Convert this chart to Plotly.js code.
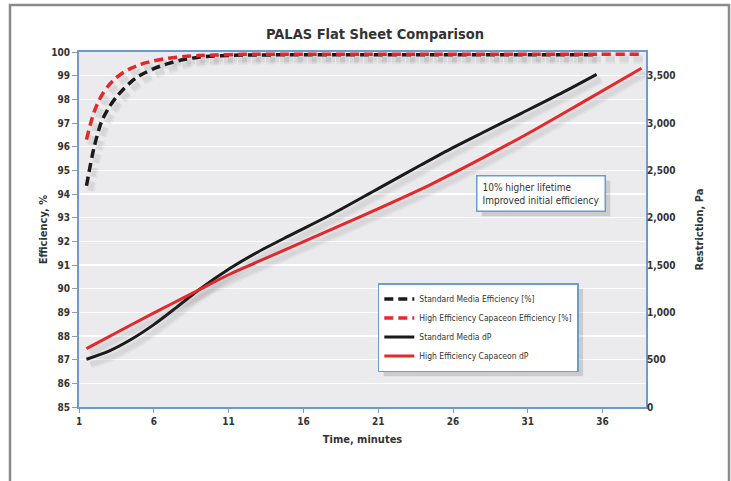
<!DOCTYPE html>
<html>
<head>
<meta charset="utf-8">
<script src="https://cdn.plot.ly/plotly-3.0.1.min.js"></script>
<style>
  html, body { margin: 0; padding: 0; background: #ffffff; }
  #chart { width: 731px; height: 481px; }
</style>
</head>
<body>
<div id="chart"></div>
<script>
// ---- data ----
const effTimeStd = [1.5, 2, 2.5, 3, 3.5, 4, 4.5, 5, 5.5, 6, 7, 8, 9, 10, 12, 15, 20, 25, 30, 35.6];
const effStd     = [94.35, 95.95, 97.05, 97.65, 98.1, 98.45, 98.75, 98.98, 99.15, 99.3, 99.52, 99.68, 99.78, 99.83, 99.87, 99.88, 99.88, 99.88, 99.88, 99.88];

const effTimeCap = [1.5, 2, 2.5, 3, 3.5, 4, 4.5, 5, 5.5, 6, 7, 8, 9, 10, 12, 15, 20, 25, 30, 35, 38.6];
const effCap     = [96.3, 97.45, 98.15, 98.6, 98.92, 99.15, 99.32, 99.45, 99.55, 99.63, 99.74, 99.81, 99.85, 99.87, 99.9, 99.9, 99.9, 99.9, 99.9, 99.9, 99.9];

const dpTimeStd = [1.5, 3, 4.5, 6, 7.5, 9, 11.1, 12.8, 15, 17.8, 21, 23.85, 26, 28, 30.56, 33.6, 35.6];
const dpStd     = [504, 590, 715, 870, 1050, 1236, 1465, 1624, 1805, 2028, 2307, 2556, 2740, 2900, 3102, 3345, 3514];

const dpTimeCap = [1.5, 4.75, 7.43, 9, 11.1, 12.8, 17.8, 24.5, 30.56, 35, 38.6];
const dpCap     = [616, 890, 1109, 1236, 1405, 1524, 1870, 2350, 2850, 3250, 3578];

const xTicks = [1, 6, 11, 16, 21, 26, 31, 36];
const leftTicks = [85, 86, 87, 88, 89, 90, 91, 92, 93, 94, 95, 96, 97, 98, 99, 100];
const rightTicks = [0, 500, 1000, 1500, 2000, 2500, 3000, 3500];
const rightTickText = ["0", "500", "1,000", "1,500", "2,000", "2,500", "3,000", "3,500"];

const seriesNames = [
  "Standard Media Efficiency [%]",
  "High Efficiency Capaceon Efficiency [%]",
  "Standard Media dP",
  "High Efficiency Capaceon dP"
];

const FONT = "Liberation Sans Narrow, DejaVu Sans Condensed, Roboto, sans-serif";
const BLUE = "#6a9bd1";
const TXT = "#333333";
const BLACK = "#1a1a1a";
const RED = "#e8262b";
const DASH = "9px,5px";

// plot geometry (px) used for the drop-shadow offset axes
const X0 = 1, X1 = 38.9, Y0 = 85, Y1 = 100, R0 = 0, R1 = 3750;
const PLOT_W = 567, PLOT_H = 355;
const SDX = 4, SDY = 5; // shadow offset in px
const dxv = SDX * (X1 - X0) / PLOT_W;
const dyv = SDY * (Y1 - Y0) / PLOT_H;
const drv = SDY * (R1 - R0) / PLOT_H;

function shadow(x, y, yax, dash, w, a) {
  return { x: x, y: y, mode: "lines", xaxis: "x2", yaxis: yax, showlegend: false, hoverinfo: "skip",
           line: { color: "rgba(90,90,90," + a + ")", width: w, dash: dash || "solid", shape: "spline", smoothing: 0.8 } };
}

const traces = [
  shadow(effTimeStd, effStd, "y3", DASH, 9, 0.06), shadow(effTimeStd, effStd, "y3", DASH, 5, 0.08),
  shadow(effTimeCap, effCap, "y3", DASH, 9, 0.06), shadow(effTimeCap, effCap, "y3", DASH, 5, 0.08),
  shadow(dpTimeStd, dpStd, "y4", null, 9, 0.06), shadow(dpTimeStd, dpStd, "y4", null, 5, 0.08),
  shadow(dpTimeCap, dpCap, "y4", null, 9, 0.06), shadow(dpTimeCap, dpCap, "y4", null, 5, 0.08),
  { x: effTimeStd, y: effStd, name: seriesNames[0], mode: "lines", line: { color: BLACK, width: 3.5, dash: DASH, shape: "spline", smoothing: 0.8 }, yaxis: "y" },
  { x: effTimeCap, y: effCap, name: seriesNames[1], mode: "lines", line: { color: RED, width: 3.5, dash: DASH, shape: "spline", smoothing: 0.8 }, yaxis: "y" },
  { x: dpTimeStd, y: dpStd, name: seriesNames[2], mode: "lines", line: { color: BLACK, width: 3, shape: "spline", smoothing: 0.8 }, yaxis: "y2" },
  { x: dpTimeCap, y: dpCap, name: seriesNames[3], mode: "lines", line: { color: RED, width: 3, shape: "spline", smoothing: 0.8 }, yaxis: "y2" }
];

const layout = {
  width: 731, height: 481,
  margin: { l: 79, r: 85, t: 52, b: 74 },
  paper_bgcolor: "#ffffff",
  plot_bgcolor: "#ebebed",
  font: { family: FONT, color: TXT, size: 10 },
  title: {
    text: "<b>PALAS Flat Sheet Comparison</b>",
    font: { family: FONT, size: 14.5, color: "#333333" },
    x: 0.513, xanchor: "center", y: 0.929, yanchor: "middle", yref: "container"
  },
  xaxis: {
    range: [X0, X1], tickvals: xTicks, ticktext: xTicks.map(String),
    showgrid: false, zeroline: false,
    showline: true, linecolor: BLUE, linewidth: 2, mirror: true,
    ticks: "outside", ticklen: 4, tickcolor: "#999999",
    tickfont: { family: FONT, size: 10, color: TXT, weight: "bold" },
    title: { text: "<b>Time, minutes</b>", font: { family: FONT, size: 11, color: TXT }, standoff: 9 }
  },
  xaxis2: { overlaying: "x", range: [X0 - dxv, X1 - dxv], visible: false, showgrid: false, zeroline: false },
  yaxis: {
    range: [Y0, Y1], tickvals: leftTicks, ticktext: leftTicks.map(String),
    showgrid: true, gridcolor: "#ffffff", gridwidth: 1.5, zeroline: false,
    showline: true, linecolor: BLUE, linewidth: 2, mirror: true,
    ticks: "outside", ticklen: 5, tickcolor: "#999999",
    tickfont: { family: FONT, size: 10, color: TXT, weight: "bold" },
    title: { text: "<b>Efficiency, %</b>", font: { family: FONT, size: 11, color: TXT }, standoff: 1 }
  },
  yaxis2: {
    range: [R0, R1], tickvals: rightTicks, ticktext: rightTickText,
    overlaying: "y", side: "right",
    showgrid: false, zeroline: false, showline: false,
    ticks: "", ticklen: 0,
    tickfont: { family: FONT, size: 10, color: TXT, weight: "bold" },
    title: { text: "<b>Restriction, Pa</b>", font: { family: FONT, size: 11, color: TXT }, standoff: 20 }
  },
  yaxis3: { overlaying: "y", range: [Y0 + dyv, Y1 + dyv], visible: false, showgrid: false, zeroline: false },
  yaxis4: { overlaying: "y", range: [R0 + drv, R1 + drv], visible: false, showgrid: false, zeroline: false },
  showlegend: true,
  legend: {
    x: 0.527, y: 0.349, xanchor: "left", yanchor: "top",
    bgcolor: "#ffffff", bordercolor: BLUE, borderwidth: 1.5,
    font: { family: FONT, size: 8.5, color: TXT },
    itemwidth: 30, tracegroupgap: 0
  },
  annotations: [
    {
      xref: "paper", yref: "paper", x: 0.70, y: 0.654, xanchor: "left", yanchor: "top",
      text: "10% higher lifetime<br>Improved initial efficiency", align: "left",
      showarrow: false, bgcolor: "#ffffff", bordercolor: BLUE, borderwidth: 1.5, borderpad: 5,
      font: { family: FONT, size: 10, color: TXT }
    }
  ],
  shapes: [
    {
      type: "rect", xref: "paper", yref: "paper",
      x0: (10 - 79) / 567, x1: (729 - 79) / 567,
      y0: (407 - 495) / 355, y1: (407 - 5) / 355,
      line: { color: "#8a8a8a", width: 2.5 }, fillcolor: "rgba(0,0,0,0)", layer: "below"
    }
  ]
};

Plotly.newPlot("chart", traces, layout, { staticPlot: true, displayModeBar: false }).then(function (gd) {
  // drop shadows behind the legend box and the note box, sized from what was drawn
  const root = gd.getBoundingClientRect();
  const boxes = [];
  const lg = gd.querySelector(".legend .bg");
  if (lg) boxes.push(lg.getBoundingClientRect());
  const an = gd.querySelector(".annotation .bg") || gd.querySelector(".annotation-text-g rect");
  if (an) boxes.push(an.getBoundingClientRect());
  const extra = boxes.map(function (b) {
    const l = b.left - root.left, t = b.top - root.top;
    return {
      type: "rect", xref: "paper", yref: "paper", layer: "above",
      x0: (l + 5 - 79) / PLOT_W, x1: (l + b.width + 5 - 79) / PLOT_W,
      y0: (407 - (t + b.height + 5)) / PLOT_H, y1: (407 - (t + 5)) / PLOT_H,
      line: { width: 0 }, fillcolor: "rgba(0,0,0,0.13)"
    };
  });
  if (extra.length) Plotly.relayout(gd, { shapes: layout.shapes.concat(extra) });
});
</script>
</body>
</html>
